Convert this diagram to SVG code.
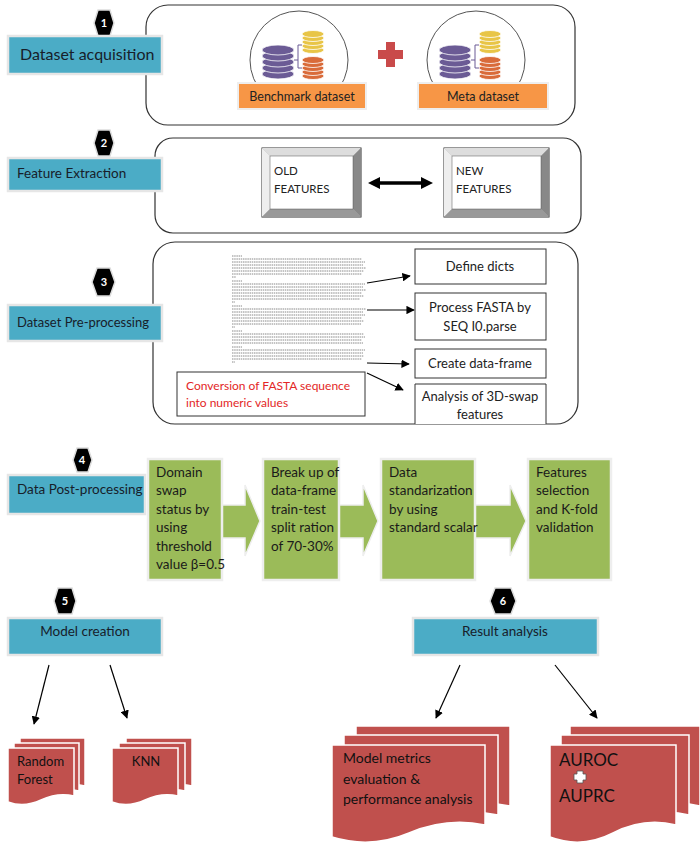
<svg xmlns="http://www.w3.org/2000/svg" width="700" height="843" viewBox="0 0 700 843">
<defs>
<style>
text{font-family:Lato,"Liberation Sans",sans-serif;}
.panel{fill:#fff;stroke:#333;stroke-width:1.2}
.blue{fill:#4bacc6;stroke:#e6e6e6;stroke-width:2.5}
.bt{font-size:13.5px;fill:#17202a}
.hex{fill:#000;stroke:#ddd;stroke-width:1.5}
.ht{font-size:11px;fill:#fff;text-anchor:middle;font-weight:bold}
.orange{fill:#f79646;stroke:#eee;stroke-width:2}
.ot{font-size:12.5px;fill:#222;text-anchor:middle}
.box{fill:#fff;stroke:#333;stroke-width:1}
.bx{font-size:13px;fill:#222;text-anchor:middle}
.green{fill:#9bbb59;stroke:#eee;stroke-width:2.5}
.gt{font-size:13.5px;fill:#1a1a1a}
.red{fill:#c0504d;stroke:#fff;stroke-width:1.5}
.rt{font-size:13px;fill:#111}
.conn{stroke:#000;stroke-width:1.2;fill:none;marker-end:url(#ah)}
.fa{stroke:#888;stroke-width:1;stroke-dasharray:1.5 0.7}
</style>
<marker id="ah" viewBox="0 0 10 10" refX="9" refY="5" markerWidth="7" markerHeight="7" orient="auto"><path d="M0,0 L10,5 L0,10 z" fill="#000"/></marker>
</defs>
<rect width="700" height="843" fill="#fff"/>

<g id="panel1"><rect class="panel" x="146" y="5" width="429" height="120" rx="22"/></g>
<g id="hex1"><polygon class="hex" points="94,23 98,10 110,10 114,23 110,36 98,36"/><text class="ht" x="104" y="27">1</text></g>
<g id="dataset-acquisition"><rect class="blue" x="8" y="36" width="154" height="38"/><text x="20" y="60" style="font-size:16px;fill:#17202a">Dataset acquisition</text></g>
<g id="benchmark">
<circle cx="299" cy="60" r="49" fill="#fff" stroke="#555" stroke-width="1"/>
<g fill="#6b5b95" stroke="#fff" stroke-width="0.8"><ellipse cx="278" cy="74" rx="16" ry="5"/><ellipse cx="278" cy="68" rx="16" ry="5"/><ellipse cx="278" cy="62" rx="16" ry="5"/><ellipse cx="278" cy="56" rx="16" ry="5"/><ellipse cx="278" cy="50" rx="16" ry="5"/></g>
<g fill="#e8c547" stroke="#fff" stroke-width="0.8"><ellipse cx="313" cy="50" rx="11" ry="3.5"/><ellipse cx="313" cy="46" rx="11" ry="3.5"/><ellipse cx="313" cy="42" rx="11" ry="3.5"/><ellipse cx="313" cy="38" rx="11" ry="3.5"/><ellipse cx="313" cy="34" rx="11" ry="3.5"/></g>
<g fill="#d96b3a" stroke="#fff" stroke-width="0.8"><ellipse cx="313" cy="76" rx="11" ry="3.5"/><ellipse cx="313" cy="72" rx="11" ry="3.5"/><ellipse cx="313" cy="68" rx="11" ry="3.5"/><ellipse cx="313" cy="64" rx="11" ry="3.5"/><ellipse cx="313" cy="60" rx="11" ry="3.5"/></g>
<path d="M294,60 H298 M298,45 V68 M298,45 H302 M298,68 H302" stroke="#6b5b95" stroke-width="1" fill="none"/>
<rect class="orange" x="238" y="83" width="128" height="26"/><text class="ot" x="302" y="101">Benchmark dataset</text>
</g>
<g id="plus"><path d="M386,42 h9 v8 h8 v9 h-8 v8 h-9 v-8 h-8 v-9 h8 z" fill="#c94a4a"/></g>
<g id="meta">
<circle cx="476" cy="60" r="49" fill="#fff" stroke="#555" stroke-width="1"/>
<g fill="#6b5b95" stroke="#fff" stroke-width="0.8"><ellipse cx="455" cy="74" rx="16" ry="5"/><ellipse cx="455" cy="68" rx="16" ry="5"/><ellipse cx="455" cy="62" rx="16" ry="5"/><ellipse cx="455" cy="56" rx="16" ry="5"/><ellipse cx="455" cy="50" rx="16" ry="5"/></g>
<g fill="#e8c547" stroke="#fff" stroke-width="0.8"><ellipse cx="490" cy="50" rx="11" ry="3.5"/><ellipse cx="490" cy="46" rx="11" ry="3.5"/><ellipse cx="490" cy="42" rx="11" ry="3.5"/><ellipse cx="490" cy="38" rx="11" ry="3.5"/><ellipse cx="490" cy="34" rx="11" ry="3.5"/></g>
<g fill="#d96b3a" stroke="#fff" stroke-width="0.8"><ellipse cx="490" cy="76" rx="11" ry="3.5"/><ellipse cx="490" cy="72" rx="11" ry="3.5"/><ellipse cx="490" cy="68" rx="11" ry="3.5"/><ellipse cx="490" cy="64" rx="11" ry="3.5"/><ellipse cx="490" cy="60" rx="11" ry="3.5"/></g>
<path d="M471,60 H475 M475,45 V68 M475,45 H479 M475,68 H479" stroke="#6b5b95" stroke-width="1" fill="none"/>
<rect class="orange" x="418" y="83" width="130" height="26"/><text class="ot" x="483" y="101">Meta dataset</text>
</g>

<g id="panel2"><rect class="panel" x="155" y="138" width="426" height="95" rx="18"/></g>
<g id="hex2"><polygon class="hex" points="94,143 98,130 110,130 114,143 110,156 98,156"/><text class="ht" x="104" y="147">2</text></g>
<g id="feature-extraction"><rect class="blue" x="8" y="158" width="154" height="33"/><text class="bt" x="17" y="178">Feature Extraction</text></g>
<g id="old">
<rect x="262" y="148" width="99" height="69" fill="#aaa" stroke="#333"/>
<polygon points="262,148 361,148 353,156 270,156" fill="#ddd"/><polygon points="262,148 270,156 270,209 262,217" fill="#eee"/><polygon points="361,148 361,217 353,209 353,156" fill="#888"/><polygon points="262,217 361,217 353,209 270,209" fill="#999"/>
<rect x="270" y="156" width="83" height="53" fill="#fff" stroke="#555" stroke-width="0.5"/>
<text x="274" y="175" style="font-size:11.5px;fill:#222">OLD</text><text x="274" y="193" style="font-size:11.5px;fill:#222">FEATURES</text>
</g>
<g id="new">
<rect x="444" y="148" width="105" height="69" fill="#aaa" stroke="#333"/>
<polygon points="444,148 549,148 541,156 452,156" fill="#ddd"/><polygon points="444,148 452,156 452,209 444,217" fill="#eee"/><polygon points="549,148 549,217 541,209 541,156" fill="#888"/><polygon points="444,217 549,217 541,209 452,209" fill="#999"/>
<rect x="452" y="156" width="89" height="53" fill="#fff" stroke="#555" stroke-width="0.5"/>
<text x="456" y="175" style="font-size:11.5px;fill:#222">NEW</text><text x="456" y="193" style="font-size:11.5px;fill:#222">FEATURES</text>
</g>

<g id="panel3"><rect class="panel" x="153" y="242" width="425" height="182" rx="22"/></g>
<g id="hex3"><polygon class="hex" points="92,282 97,268 110,268 115,282 110,296 97,296"/><text class="ht" x="104" y="286">3</text></g>
<g id="preprocessing"><rect class="blue" x="8" y="305" width="154" height="36"/><text x="17" y="327" style="font-size:13px;fill:#17202a">Dataset Pre-processing</text></g>
<g id="fasta">
<g class="fa">
<path d="M232,256h10M232,259h130M232,262h133M232,265h131M232,268h134M232,271h132M232,274h130M232,277h4"/>
<path d="M232,281h10M232,284h133M232,287h131M232,290h134M232,293h130M232,296h132M232,299h128M232,302h3"/>
<path d="M232,306h10M232,309h134M232,312h131M232,315h133M232,318h130M232,321h132M232,324h129M232,327h3"/>
<path d="M232,331h10M232,334h132M232,337h133M232,340h130M232,343h131"/>
<path d="M232,347h10M232,350h133M232,353h131M232,356h132M232,359h130M232,362h3"/>
</g>
</g>
<g id="define-dicts"><rect class="box" x="415" y="249" width="131" height="35"/><text class="bx" x="480" y="271">Define dicts</text></g>
<g id="process-fasta"><rect class="box" x="415" y="293" width="131" height="47"/><text class="bx" x="480" y="312">Process FASTA by</text><text class="bx" x="480" y="331">SEQ I0.parse</text></g>
<g id="create-df"><rect class="box" x="415" y="349" width="131" height="29"/><text class="bx" x="480" y="368">Create data-frame</text></g>
<g id="analysis-3d"><path class="box" d="M415,424 V384 H546 V424"/><text class="bx" x="480" y="401">Analysis of 3D-swap</text><text class="bx" x="480" y="419">features</text></g>
<g id="conversion"><rect class="box" x="177" y="372" width="188" height="44"/><text x="186" y="390" style="font-size:12px;fill:#e32626">Conversion of FASTA sequence</text><text x="186" y="407" style="font-size:12px;fill:#e32626">into numeric values</text></g>

<g id="hex4"><polygon class="hex" points="73,460 77,448 88,448 92,460 88,472 77,472"/><text class="ht" x="82" y="464">4</text></g>
<g id="post-processing"><rect class="blue" x="8" y="475" width="137" height="39"/><text class="bt" x="17" y="494">Data Post-processing</text></g>
<g id="garrows" fill="#9bbb59" stroke="#eee" stroke-width="1.5">
<polygon points="220,505 245,505 245,485 260,521 245,556 245,538 220,538"/>
<polygon points="337,505 363,505 363,485 378,521 363,556 363,538 337,538"/>
<polygon points="473,505 510,505 510,485 526,521 510,556 510,538 473,538"/>
</g>
<g id="g1"><rect class="green" x="148" y="459" width="74" height="121"/>
<text class="gt" x="156" y="477">Domain</text><text class="gt" x="156" y="495">swap</text><text class="gt" x="156" y="514">status by</text><text class="gt" x="156" y="532">using</text><text class="gt" x="156" y="551">threshold</text><text class="gt" x="156" y="569">value β=0.5</text></g>
<g id="g2"><rect class="green" x="263" y="459" width="76" height="121"/>
<text class="gt" x="271" y="477">Break up of</text><text class="gt" x="271" y="495">data-frame</text><text class="gt" x="271" y="514">train-test</text><text class="gt" x="271" y="532">split ration</text><text class="gt" x="271" y="551">of 70-30%</text></g>
<g id="g3"><rect class="green" x="381" y="459" width="94" height="121"/>
<text class="gt" x="389" y="477">Data</text><text class="gt" x="389" y="495">standarization</text><text class="gt" x="389" y="514">by using</text><text class="gt" x="389" y="532">standard scalar</text></g>
<g id="g4"><rect class="green" x="528" y="459" width="83" height="121"/>
<text class="gt" x="536" y="477">Features</text><text class="gt" x="536" y="495">selection</text><text class="gt" x="536" y="514">and K-fold</text><text class="gt" x="536" y="532">validation</text></g>

<g id="hex5"><polygon class="hex" points="54,601 58,588 72,588 76,601 72,614 58,614"/><text class="ht" x="65" y="605">5</text></g>
<g id="model-creation"><rect class="blue" x="8" y="618" width="154" height="37"/><text class="bt" x="85" y="636" text-anchor="middle">Model creation</text></g>
<g id="hex6"><polygon class="hex" points="490,601 495,588 511,588 516,601 511,614 495,614"/><text class="ht" x="503" y="605">6</text></g>
<g id="result-analysis"><rect class="blue" x="413" y="618" width="185" height="37"/><text class="bt" x="505" y="636" text-anchor="middle">Result analysis</text></g>

<g id="connectors">
<line class="conn" x1="367" y1="283" x2="410" y2="276"/>
<line class="conn" x1="367" y1="310" x2="414" y2="310"/>
<line class="conn" x1="367" y1="363" x2="409" y2="364"/>
<line class="conn" x1="367" y1="373" x2="403" y2="390"/>
<line x1="377" y1="183" x2="424" y2="183" stroke="#000" stroke-width="3.5"/>
<polygon points="368,183 380,177 380,189" fill="#000"/><polygon points="433,183 421,177 421,189" fill="#000"/>
<line class="conn" x1="49" y1="665" x2="34" y2="724"/>
<line class="conn" x1="110" y1="665" x2="127" y2="718"/>
<line class="conn" x1="460" y1="665" x2="436" y2="718"/>
<line class="conn" x1="555" y1="665" x2="597" y2="718"/>
</g>

<g id="random-forest">
<path class="red" d="M20,738 h65 v48 q-16,-4 -32,4 t-33,2 z"/>
<path class="red" d="M14,743 h65 v48 q-16,-4 -32,4 t-33,2 z"/>
<path class="red" d="M8,748 h66 v48 q-16,-4 -33,4 t-33,2 z"/>
<text class="rt" x="17" y="766">Random</text><text class="rt" x="17" y="784">Forest</text>
</g>
<g id="knn">
<path class="red" d="M126,738 h66 v48 q-16,-4 -33,4 t-33,2 z"/>
<path class="red" d="M119,743 h66 v48 q-16,-4 -33,4 t-33,2 z"/>
<path class="red" d="M112,748 h66 v48 q-16,-4 -33,4 t-33,2 z"/>
<text class="rt" x="146" y="766" text-anchor="middle">KNN</text>
</g>
<g id="model-metrics">
<path class="red" d="M356,726 h154 v80 q-38,-8 -77,8 t-77,4 z"/>
<path class="red" d="M344,735 h154 v80 q-38,-8 -77,8 t-77,4 z"/>
<path class="red" d="M332,745 h153 v80 q-38,-8 -76,8 t-77,4 z"/>
<text x="343" y="763" style="font-size:14px;fill:#111">Model metrics</text>
<text x="343" y="784" style="font-size:14px;fill:#111">evaluation &amp;</text>
<text x="343" y="804" style="font-size:14px;fill:#111">performance analysis</text>
</g>
<g id="auroc">
<path class="red" d="M570,726 h130 v80 q-32,-8 -65,8 t-65,4 z"/>
<path class="red" d="M561,735 h128 v80 q-32,-8 -64,8 t-64,4 z"/>
<path class="red" d="M550,745 h126 v80 q-32,-8 -63,8 t-63,4 z"/>
<text x="559" y="766" style="font-size:17px;fill:#111">AUROC</text>
<path d="M577,771 h6 v3 h3 v6 h-3 v3 h-6 v-3 h-3 v-6 h3 z" fill="#fff" stroke="#555" stroke-width="0.8"/>
<text x="559" y="802" style="font-size:17px;fill:#111">AUPRC</text>
</g>
</svg>
